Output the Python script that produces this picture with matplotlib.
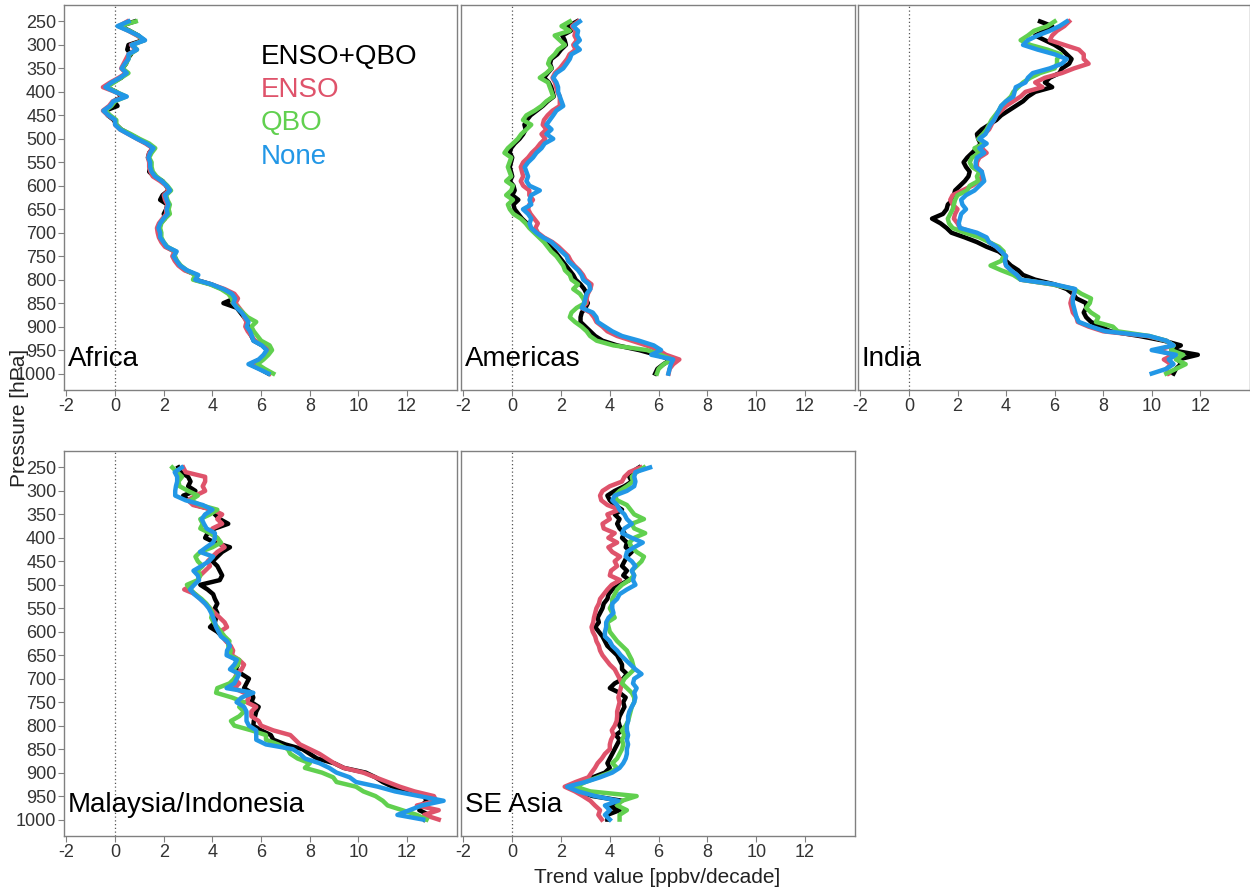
import matplotlib
matplotlib.use("Agg")
import matplotlib.pyplot as plt

plt.rcParams['font.family'] = ['Liberation Sans', 'DejaVu Sans']
plt.rcParams['axes.unicode_minus'] = False

# Pressure levels [hPa]
P = list(range(250, 1001, 10))

series_names = ["ENSO+QBO", "ENSO", "QBO", "None"]
series_colors = ["#000000", "#DF536B", "#61D04F", "#2297E6"]

# ---------------- Africa ----------------
AF_enso_qbo = [0.80, 0.20, 0.60, 0.95, 1.15, 0.55, 0.50, 0.65, 0.50, 0.45,
               0.30, 0.45, 0.25, -0.10, -0.35, 0.05, 0.30, -0.05, 0.10, -0.40,
               -0.30, -0.05, 0.05, 0.25, 0.60, 0.95, 1.30, 1.55, 1.40, 1.35,
               1.45, 1.45, 1.40, 1.60, 1.95, 2.10, 2.20, 1.95, 1.85, 2.15,
               2.10, 2.00, 2.05, 1.85, 1.80, 1.80, 1.85, 1.95, 2.10, 2.45,
               2.45, 2.50, 2.65, 2.90, 3.35, 3.30, 3.95, 4.40, 4.75, 4.90,
               4.45, 5.00, 5.15, 5.30, 5.45, 5.45, 5.50, 5.60, 5.70, 6.05,
               6.25, 6.15, 5.95, 5.55, 5.95, 6.30]
AF_enso = [0.50, 0.15, 0.55, 0.90, 1.20, 0.65, 0.85, 0.55, 0.45, 0.35,
           0.25, 0.45, 0.15, -0.20, -0.50, 0.00, 0.40, -0.10, -0.25, -0.50,
           -0.30, 0.00, 0.00, 0.20, 0.55, 0.90, 1.25, 1.55, 1.40, 1.35,
           1.40, 1.40, 1.45, 1.55, 1.85, 2.10, 2.20, 2.00, 2.05, 2.15,
           2.10, 2.10, 1.95, 1.80, 1.72, 1.75, 1.80, 1.90, 2.05, 2.45,
           2.35, 2.45, 2.60, 2.85, 3.35, 3.25, 3.95, 4.50, 4.90, 5.05,
           4.95, 5.10, 5.25, 5.30, 5.40, 5.35, 5.45, 5.60, 5.75, 6.10,
           6.30, 6.15, 5.95, 5.55, 6.00, 6.35]
AF_qbo = [0.85, 0.15, 0.60, 0.95, 1.20, 0.70, 0.90, 0.60, 0.55, 0.45,
          0.30, 0.55, 0.25, -0.05, -0.35, 0.05, 0.45, 0.00, -0.15, -0.40,
          -0.20, 0.05, 0.05, 0.25, 0.65, 1.00, 1.40, 1.65, 1.50, 1.40,
          1.50, 1.50, 1.55, 1.70, 1.95, 2.15, 2.30, 2.10, 2.15, 2.25,
          2.20, 2.25, 2.05, 1.90, 1.85, 1.90, 1.90, 2.00, 2.15, 2.50,
          2.45, 2.55, 2.70, 2.95, 3.30, 3.20, 3.90, 4.35, 4.65, 4.80,
          4.85, 5.05, 5.25, 5.45, 5.80, 5.60, 5.70, 5.85, 6.00, 6.35,
          6.45, 6.30, 6.10, 5.85, 6.15, 6.50]
AF_none = [0.55, 0.10, 0.55, 0.96, 1.23, 0.68, 0.90, 0.55, 0.55, 0.40,
           0.27, 0.48, 0.20, -0.14, -0.40, 0.00, 0.48, -0.07, -0.20, -0.48,
           -0.27, 0.00, 0.00, 0.20, 0.55, 0.90, 1.30, 1.58, 1.44, 1.37,
           1.44, 1.44, 1.50, 1.64, 1.92, 2.12, 2.26, 2.05, 2.12, 2.19,
           2.12, 2.16, 1.99, 1.85, 1.78, 1.85, 1.85, 1.99, 2.12, 2.53,
           2.40, 2.53, 2.67, 2.95, 3.42, 3.29, 3.97, 4.45, 4.80, 4.93,
           4.86, 5.00, 5.20, 5.34, 5.48, 5.41, 5.55, 5.62, 5.68, 6.03,
           6.23, 6.10, 5.90, 5.48, 5.90, 6.30]

# ---------------- Americas ----------------
AM_enso_qbo = [2.65, 2.30, 2.40, 2.05, 2.15, 2.20, 2.00, 1.85, 1.60, 1.55,
               1.62, 1.45, 1.30, 1.50, 1.60, 1.65, 1.70, 1.45, 1.25, 1.00,
               0.75, 0.60, 0.50, 0.55, 0.45, 0.30, 0.10, -0.05, -0.10, 0.00,
               -0.05, -0.10, -0.05, 0.00, -0.10, 0.05, 0.10, 0.00, 0.25, 0.05,
               0.10, 0.25, 0.40, 0.60, 0.75, 0.95, 1.15, 1.35, 1.55, 1.75,
               1.90, 2.05, 2.20, 2.35, 2.50, 2.60, 2.80, 2.95, 3.05, 3.00,
               3.10, 3.00, 2.85, 2.80, 2.80, 3.00, 3.20, 3.40, 3.70, 4.30,
               5.20, 5.90, 6.50, 6.20, 5.95, 5.86]
AM_enso = [2.70, 2.45, 2.60, 2.55, 2.65, 2.50, 2.60, 2.35, 2.25, 2.10,
           1.95, 1.75, 1.65, 1.75, 1.80, 1.85, 1.95, 1.95, 1.95, 1.65,
           1.45, 1.30, 1.25, 1.40, 1.20, 1.35, 1.15, 1.00, 0.80, 0.65,
           0.45, 0.35, 0.40, 0.45, 0.35, 0.45, 0.70, 0.70, 0.85, 0.70,
           0.65, 0.75, 0.90, 1.05, 0.95, 1.05, 1.30, 1.65, 1.90, 2.10,
           2.30, 2.40, 2.55, 2.75, 2.90, 3.00, 3.25, 3.20, 3.10, 3.05,
           3.05, 2.85, 3.20, 3.35, 3.45, 3.70, 3.90, 4.30, 4.90, 5.50,
           6.00, 6.30, 6.85, 6.60, 6.45, 6.41]
AM_qbo = [2.36, 2.02, 2.36, 1.74, 1.95, 2.16, 1.88, 1.74, 1.54, 1.47,
          1.61, 1.40, 1.13, 1.47, 1.54, 1.61, 1.68, 1.40, 1.20, 0.92,
          0.58, 0.44, 0.78, 0.58, 0.37, 0.23, 0.03, -0.18, -0.32, -0.04,
          -0.11, -0.18, -0.11, -0.04, -0.25, 0.03, -0.04, -0.25, 0.03, -0.18,
          -0.10, 0.05, 0.35, 0.55, 0.70, 0.90, 1.10, 1.30, 1.45, 1.60,
          1.81, 1.95, 2.09, 2.16, 2.36, 2.43, 2.70, 2.50, 2.77, 2.91,
          2.98, 2.64, 2.43, 2.36, 2.57, 2.84, 3.05, 3.19, 3.46, 4.15,
          5.52, 6.07, 6.55, 6.21, 6.00, 5.93]
AM_none = [2.77, 2.50, 2.70, 2.66, 2.77, 2.57, 2.77, 2.43, 2.36, 2.23,
           2.09, 1.81, 1.68, 1.81, 1.88, 1.88, 1.95, 2.02, 2.09, 1.81,
           1.68, 1.54, 1.40, 1.61, 1.40, 1.68, 1.33, 1.20, 0.99, 0.85,
           0.65, 0.51, 0.58, 0.65, 0.58, 0.71, 1.13, 0.78, 0.71, 0.78,
           0.44, 0.65, 0.78, 0.71, 0.78, 0.99, 1.26, 1.61, 1.81, 2.02,
           2.23, 2.29, 2.50, 2.70, 2.84, 2.91, 3.15, 3.20, 3.05, 3.00,
           2.95, 2.85, 3.30, 3.45, 3.50, 3.80, 4.10, 4.50, 5.20, 5.80,
           6.10, 5.70, 6.60, 6.50, 6.45, 6.40]

# ---------------- India ----------------
IN_enso_qbo = [5.40, 5.90, 5.60, 5.20, 5.60, 6.00, 6.30, 6.50, 6.70, 6.60,
               6.30, 6.20, 5.80, 5.60, 5.90, 5.20, 4.90, 4.70, 4.40, 4.10,
               3.80, 3.60, 3.30, 3.00, 2.80, 2.85, 2.95, 2.80, 2.60, 2.40,
               2.25, 2.35, 2.50, 2.45, 2.30, 2.10, 1.90, 1.85, 1.80, 1.60,
               1.55, 1.40, 0.95, 1.30, 1.55, 1.75, 2.30, 2.80, 3.20, 3.70,
               3.95, 4.00, 4.20, 4.50, 4.70, 5.20, 6.00, 6.50, 6.75, 6.90,
               7.30, 7.30, 7.20, 7.30, 7.50, 7.90, 8.30, 9.50, 10.50, 11.20,
               10.80, 11.90, 11.10, 11.20, 11.00, 10.90]
IN_enso = [6.60, 6.40, 6.10, 5.90, 5.80, 6.40, 7.00, 7.20, 7.20, 7.40,
           6.80, 6.30, 5.60, 5.20, 5.50, 4.80, 4.60, 4.30, 4.00, 3.80,
           3.60, 3.50, 3.40, 3.30, 3.10, 2.90, 3.10, 3.00, 3.20, 2.90,
           2.80, 2.80, 3.00, 3.00, 2.90, 2.60, 2.20, 1.80, 1.70, 1.80,
           2.00, 1.90, 1.85, 2.00, 2.10, 2.70, 3.10, 3.30, 3.60, 3.80,
           4.00, 3.95, 4.00, 4.20, 4.40, 4.60, 5.90, 6.80, 6.80, 6.70,
           6.65, 6.70, 6.75, 6.90, 6.95, 7.40, 8.00, 9.80, 10.60, 10.90,
           10.20, 10.90, 10.50, 10.80, 10.60, 10.70]
IN_qbo = [6.00, 5.70, 5.15, 4.90, 4.60, 5.00, 5.70, 6.25, 6.10, 6.10,
          6.00, 5.40, 5.00, 4.70, 4.50, 4.30, 4.20, 4.00, 3.80, 3.70,
          3.55, 3.40, 3.30, 3.20, 3.05, 2.85, 3.10, 2.70, 2.90, 2.60,
          2.50, 2.60, 2.90, 2.80, 2.85, 2.50, 2.40, 2.00, 1.90, 1.85,
          1.80, 1.70, 1.60, 1.65, 1.80, 2.30, 2.90, 3.30, 3.70, 3.90,
          3.90, 3.80, 3.36, 3.80, 4.30, 4.60, 5.90, 6.80, 7.10, 7.50,
          7.45, 7.30, 7.50, 7.80, 7.70, 8.40, 8.60, 9.90, 10.60, 10.90,
          10.80, 11.30, 11.00, 11.40, 11.00, 10.60]
IN_none = [6.50, 6.20, 5.80, 5.30, 4.90, 4.70, 5.30, 6.00, 6.50, 6.30,
           5.80, 5.10, 4.90, 4.80, 4.40, 4.35, 4.30, 4.00, 3.80, 3.70,
           3.60, 3.50, 3.35, 3.25, 3.15, 2.90, 3.20, 2.90, 3.10, 2.80,
           2.75, 2.75, 3.00, 3.05, 3.10, 2.90, 2.70, 2.35, 2.15, 2.20,
           2.35, 2.15, 2.10, 2.05, 2.10, 2.80, 3.20, 3.30, 3.60, 3.80,
           4.00, 3.95, 4.00, 4.20, 4.45, 4.60, 6.00, 6.85, 6.80, 6.75,
           6.75, 6.80, 6.85, 6.90, 7.00, 7.50, 8.10, 9.90, 10.60, 10.90,
           10.00, 11.00, 10.70, 10.90, 10.60, 10.00]

# ---------------- Malaysia/Indonesia ----------------
MI_enso_qbo = [2.60, 2.70, 3.00, 3.10, 3.00, 3.30, 2.80, 3.00, 3.30, 4.00,
               4.10, 4.30, 4.65, 4.10, 3.80, 3.70, 4.10, 4.72, 4.40, 4.20,
               4.00, 4.20, 4.30, 4.40, 4.30, 3.50, 3.80, 4.03, 4.10, 4.20,
               4.10, 4.20, 4.15, 4.10, 3.90, 4.20, 4.40, 4.60, 4.70, 4.65,
               4.70, 5.00, 5.05, 4.95, 5.20, 5.50, 5.40, 5.30, 5.60, 5.68,
               5.60, 5.90, 5.80, 5.75, 5.70, 5.68, 6.00, 6.40, 6.50, 7.00,
               7.70, 8.00, 8.30, 9.00, 9.40, 10.30, 10.70, 11.00, 11.40, 11.80,
               12.70, 12.80, 12.60, 12.50, 12.90, 12.70]
MI_enso = [2.80, 2.90, 3.70, 3.70, 3.60, 3.70, 3.30, 3.00, 3.20, 4.00,
           4.40, 4.20, 4.40, 4.00, 3.90, 4.20, 4.30, 4.50, 4.20, 4.00,
           3.80, 3.90, 3.70, 3.50, 3.40, 3.20, 2.84, 3.30, 3.50, 3.70,
           3.90, 4.10, 4.30, 4.50, 4.60, 4.30, 4.40, 4.55, 4.75, 4.85,
           4.80, 5.10, 5.30, 5.20, 5.00, 4.90, 5.10, 4.90, 5.30, 5.50,
           5.40, 5.80, 5.60, 5.60, 5.90, 6.00, 6.50, 7.20, 7.40, 7.60,
           8.00, 8.40, 8.70, 9.00, 9.40, 10.20, 10.70, 11.20, 11.70, 12.30,
           13.10, 13.20, 12.40, 13.30, 12.70, 13.30]
MI_qbo = [2.35, 2.55, 2.75, 2.60, 2.65, 3.00, 3.40, 3.10, 3.50, 4.20,
          3.90, 3.50, 3.60, 3.50, 3.90, 4.20, 4.35, 4.00, 3.50, 3.30,
          3.40, 3.60, 3.40, 3.50, 3.40, 2.95, 3.10, 3.30, 3.55, 3.75,
          3.90, 4.00, 3.95, 4.05, 4.20, 4.35, 4.50, 4.70, 4.65, 4.75,
          4.70, 5.10, 5.05, 4.85, 5.05, 4.90, 4.70, 4.20, 4.15, 4.80,
          5.30, 5.10, 5.30, 5.10, 4.76, 4.90, 5.60, 6.20, 6.20, 6.70,
          7.10, 7.20, 7.50, 8.00, 7.80, 8.50, 8.96, 9.10, 9.90, 10.20,
          10.70, 11.00, 11.20, 11.80, 12.40, 12.80]
MI_none = [2.74, 2.45, 2.55, 2.55, 2.50, 2.47, 2.47, 2.90, 3.60, 4.00,
           3.70, 3.56, 3.65, 3.76, 4.10, 4.10, 4.03, 3.75, 3.49, 4.03,
           3.85, 3.55, 3.22, 3.40, 3.45, 3.25, 3.08, 3.25, 3.49, 3.70,
           3.85, 3.95, 4.03, 4.10, 4.15, 4.25, 4.35, 4.60, 4.72, 4.60,
           4.58, 5.00, 4.90, 4.72, 5.10, 5.00, 4.90, 4.58, 5.68, 5.20,
           4.99, 5.30, 5.40, 5.40, 5.40, 5.50, 5.80, 5.80, 5.80, 6.20,
           7.30, 7.60, 7.80, 8.40, 8.80, 9.10, 9.64, 9.90, 10.80, 11.50,
           12.50, 13.50, 12.60, 12.10, 11.60, 12.66]

# ---------------- SE Asia ----------------
SE_enso_qbo = [5.20, 4.90, 4.80, 4.90, 4.60, 4.20, 3.90, 4.00, 4.20, 4.50,
               4.20, 4.40, 4.30, 4.40, 4.60, 4.50, 4.70, 4.65, 4.90, 4.70,
               4.60, 4.50, 4.70, 4.55, 4.80, 4.40, 4.10, 3.95, 3.90, 3.75,
               3.70, 3.60, 3.50, 3.55, 3.40, 3.55, 3.70, 3.80, 3.90, 4.10,
               4.30, 4.40, 4.50, 4.50, 4.70, 4.55, 4.20, 4.00, 4.40, 4.65,
               4.55, 4.60, 4.50, 4.40, 4.35, 4.40, 4.50, 4.25, 4.40, 4.30,
               4.20, 4.10, 4.00, 3.90, 4.00, 3.80, 3.30, 2.80, 2.30, 2.70,
               3.30, 4.50, 3.90, 4.40, 3.90, 3.90]
SE_enso = [5.25, 4.80, 4.60, 4.50, 4.00, 3.70, 3.60, 3.65, 3.90, 4.40,
           3.90, 4.00, 3.70, 3.75, 4.20, 3.94, 4.30, 3.94, 4.10, 4.42,
           4.20, 4.30, 4.05, 4.00, 4.42, 4.08, 3.90, 3.75, 3.60, 3.55,
           3.45, 3.40, 3.35, 3.32, 3.25, 3.30, 3.40, 3.45, 3.55, 3.60,
           3.70, 3.85, 4.00, 4.20, 4.30, 4.40, 4.49, 4.45, 4.40, 4.35,
           4.40, 4.35, 4.30, 4.30, 4.28, 4.20, 4.08, 4.15, 4.05, 4.00,
           4.00, 3.80, 3.67, 3.50, 3.39, 3.25, 3.12, 2.60, 2.15, 2.57,
           2.90, 3.20, 3.39, 3.60, 3.53, 3.67]
SE_qbo = [5.40, 5.10, 4.90, 4.95, 4.70, 4.40, 4.20, 4.30, 4.70, 4.85,
          5.00, 5.40, 4.90, 5.00, 5.45, 5.00, 4.80, 4.90, 5.10, 5.40,
          5.30, 5.10, 4.90, 5.00, 4.80, 4.50, 4.30, 4.20, 4.10, 4.10,
          4.00, 4.10, 4.20, 3.90, 3.95, 4.00, 4.15, 4.30, 4.50, 4.70,
          4.80, 4.90, 4.95, 5.00, 4.80, 4.60, 4.50, 4.70, 4.90, 5.00,
          5.00, 4.90, 4.85, 4.80, 4.75, 4.65, 4.50, 4.60, 4.50, 4.55,
          4.50, 4.40, 4.30, 4.10, 4.30, 4.00, 3.50, 3.00, 2.60, 3.20,
          5.10, 4.50, 4.30, 4.70, 4.40, 4.40]
SE_none = [5.65, 5.05, 5.00, 5.05, 5.00, 4.70, 4.20, 4.10, 4.30, 4.40,
           4.60, 4.70, 4.90, 4.60, 4.50, 4.90, 5.35, 5.00, 4.70, 4.65,
           4.90, 5.05, 4.90, 5.00, 4.95, 5.05, 4.70, 4.40, 4.30, 4.10,
           4.10, 4.15, 3.95, 3.85, 3.85, 3.80, 3.80, 4.00, 4.10, 4.30,
           4.45, 4.65, 4.85, 5.05, 5.30, 5.00, 4.95, 5.10, 5.00, 5.05,
           5.00, 4.90, 4.80, 4.75, 4.75, 4.70, 4.70, 4.75, 4.70, 4.75,
           4.70, 4.70, 4.65, 4.55, 4.40, 4.10, 3.60, 3.00, 2.25, 2.70,
           3.40, 4.35, 3.80, 4.00, 3.80, 4.00]

regions = ["Africa", "Americas", "India", "Malaysia/Indonesia", "SE Asia"]
region_data = [
    [AF_enso_qbo, AF_enso, AF_qbo, AF_none],
    [AM_enso_qbo, AM_enso, AM_qbo, AM_none],
    [IN_enso_qbo, IN_enso, IN_qbo, IN_none],
    [MI_enso_qbo, MI_enso, MI_qbo, MI_none],
    [SE_enso_qbo, SE_enso, SE_qbo, SE_none],
]

x_ticks = [-2, 0, 2, 4, 6, 8, 10, 12]
y_ticks = [250, 300, 350, 400, 450, 500, 550, 600, 650, 700, 750, 800, 850, 900, 950, 1000]

W, H = 1250, 890
fig = plt.figure(figsize=(W / 100, H / 100), dpi=100)

# panel boxes in pixels: (left, top, right, bottom)
boxes = [(64, 5, 457, 390), (461, 5, 855, 390), (858, 5, 1250, 390),
         (64, 451, 457, 836), (461, 451, 855, 836)]
show_y = [True, False, False, True, False]

edge = "#808080"
for i, (name, data) in enumerate(zip(regions, region_data)):
    l, t, r, b = boxes[i]
    ax = fig.add_axes([l / W, 1 - b / H, (r - l) / W, (b - t) / H])
    ax.axvline(0, color="#555555", lw=0.9, ls=(0, (1, 2)), zorder=1)
    for vals, col in zip(data, series_colors):
        ax.plot(vals, P, color=col, lw=3.2, zorder=2, solid_joinstyle="round")
    ax.set_xlim(-2.1, 14.05)
    ax.set_ylim(1035, 215)
    ax.set_xticks(x_ticks)
    ax.set_yticks(y_ticks)
    ax.tick_params(direction="out", length=4, width=0.8, color=edge,
                   labelsize=13, labelcolor="#333333", pad=1.5)
    if not show_y[i]:
        ax.tick_params(axis="y", left=False, labelleft=False)
    for s in ax.spines.values():
        s.set_color(edge)
        s.set_linewidth(1.0)
    ax.text(-1.95, 970, name, fontsize=20, ha="left", va="center", color="black")
    if i == 0:
        for k, (nm, col) in enumerate(zip(series_names, series_colors)):
            ax.text(6.0, 325 + k * 71, nm, color=col, fontsize=20,
                    ha="left", va="center")

fig.text(0.016, 0.53, "Pressure [hPa]", rotation=90, fontsize=15,
         ha="center", va="center", color="#222222")
fig.text(0.526, 0.0146, "Trend value [ppbv/decade]", fontsize=15,
         ha="center", va="center", color="#222222")

fig.savefig("out.png", dpi=100)
